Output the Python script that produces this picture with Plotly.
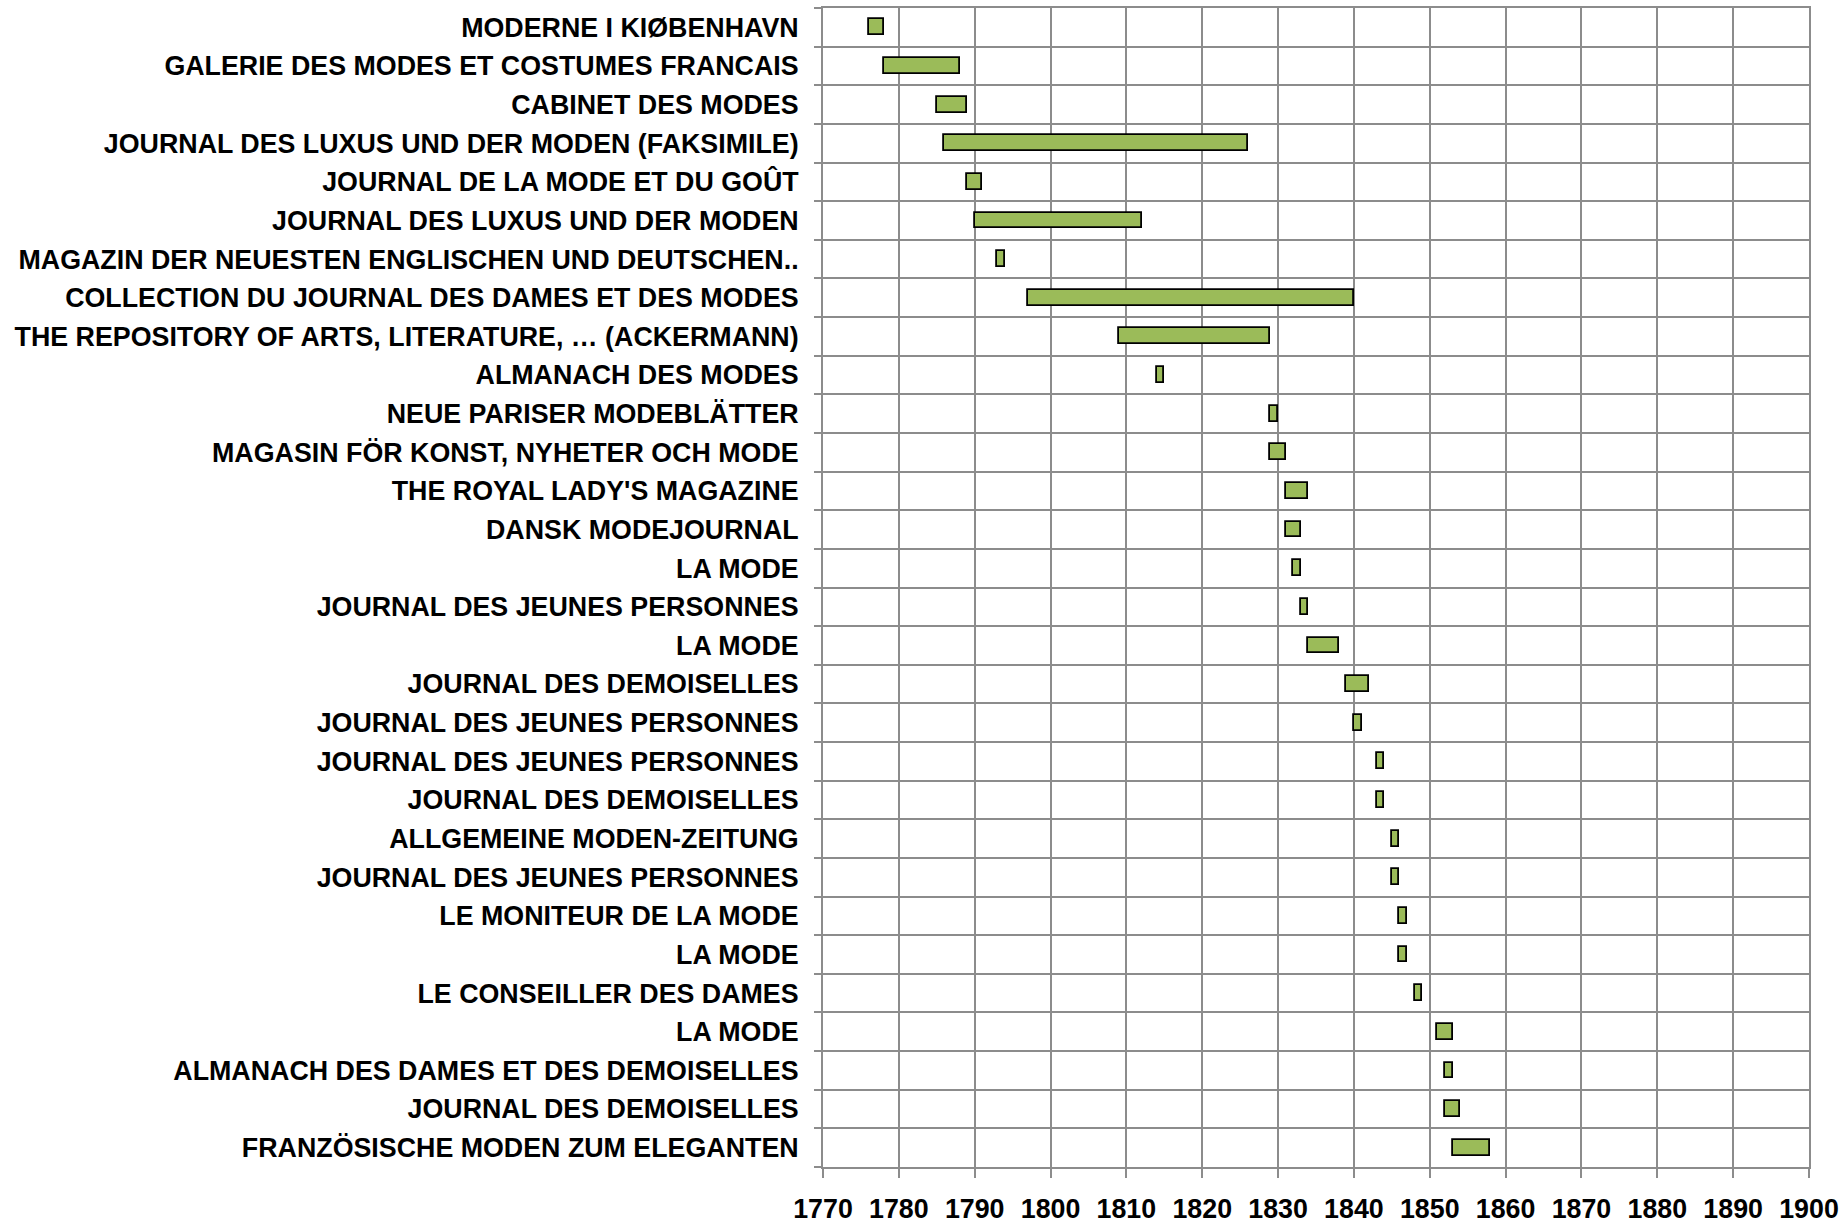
import plotly.graph_objects as go

titles = [
    "MODERNE I KIØBENHAVN",
    "GALERIE DES MODES ET COSTUMES FRANCAIS",
    "CABINET DES MODES",
    "JOURNAL DES LUXUS UND DER MODEN (FAKSIMILE)",
    "JOURNAL DE LA MODE ET DU GOÛT",
    "JOURNAL DES LUXUS UND DER MODEN",
    "MAGAZIN DER NEUESTEN ENGLISCHEN UND DEUTSCHEN..",
    "COLLECTION DU JOURNAL DES DAMES ET DES MODES",
    "THE REPOSITORY OF ARTS, LITERATURE, … (ACKERMANN)",
    "ALMANACH DES MODES",
    "NEUE PARISER MODEBLÄTTER",
    "MAGASIN FÖR KONST, NYHETER OCH MODE",
    "THE ROYAL LADY'S MAGAZINE",
    "DANSK MODEJOURNAL",
    "LA MODE",
    "JOURNAL DES JEUNES PERSONNES",
    "LA MODE",
    "JOURNAL DES DEMOISELLES",
    "JOURNAL DES JEUNES PERSONNES",
    "JOURNAL DES JEUNES PERSONNES",
    "JOURNAL DES DEMOISELLES",
    "ALLGEMEINE MODEN-ZEITUNG",
    "JOURNAL DES JEUNES PERSONNES",
    "LE MONITEUR DE LA MODE",
    "LA MODE",
    "LE CONSEILLER DES DAMES",
    "LA MODE",
    "ALMANACH DES DAMES ET DES DEMOISELLES",
    "JOURNAL DES DEMOISELLES",
    "FRANZÖSISCHE MODEN ZUM ELEGANTEN",
]
start_year = [1776, 1778, 1785, 1786, 1789, 1790, 1793, 1797, 1809, 1814,
              1829, 1829, 1831, 1831, 1832, 1833, 1834, 1839, 1840, 1843,
              1843, 1845, 1845, 1846, 1846, 1848, 1851, 1852, 1852, 1853]
end_year = [1778, 1788, 1789, 1826, 1791, 1812, 1794, 1840, 1829, 1815,
            1830, 1831, 1834, 1833, 1833, 1834, 1838, 1842, 1841, 1844,
            1844, 1846, 1846, 1847, 1847, 1849, 1853, 1853, 1854, 1858]
year_ticks = list(range(1770, 1901, 10))

rows = list(range(len(titles)))
durations = [e - s for s, e in zip(start_year, end_year)]

fig = go.Figure(go.Bar(
    y=rows, x=durations, base=start_year, orientation="h", width=0.41,
    marker=dict(color="#9BBB59", line=dict(color="#000000", width=1.8)),
    hoverinfo="skip",
))

grid = "#8c8c8c"
font = dict(family="Liberation Sans, Arial, sans-serif", size=26.8, color="#000000", weight="bold")

fig.update_layout(
    width=1842, height=1223,
    margin=dict(l=823, r=33, t=8, b=56),
    paper_bgcolor="white", plot_bgcolor="white",
    showlegend=False, bargap=0,
    font=font,
)
fig.update_xaxes(
    range=[1770, 1900], tickvals=year_ticks, ticktext=[str(v) for v in year_ticks],
    showgrid=True, gridcolor=grid, gridwidth=2,
    showline=True, linecolor=grid, linewidth=2, mirror=True,
    ticks="outside", ticklen=9, tickcolor=grid, tickwidth=2,
    ticklabelstandoff=8, zeroline=False, tickfont=font, automargin=False,
)
fig.update_yaxes(
    range=[len(titles) - 0.5, -0.5], tickvals=rows, ticktext=titles,
    showgrid=False, ticks="", ticklabelstandoff=17,
    showline=True, linecolor=grid, linewidth=2, mirror=True,
    zeroline=False, tickfont=font, automargin=False,
    minor=dict(tick0=-0.5, dtick=1, showgrid=True, gridcolor=grid, gridwidth=2,
               ticks="outside", ticklen=7, tickcolor=grid, tickwidth=2),
)

fig.write_html("out.html", config={"displayModeBar": False},
               post_script="document.body.style.margin='0';document.body.style.overflow='hidden';")
